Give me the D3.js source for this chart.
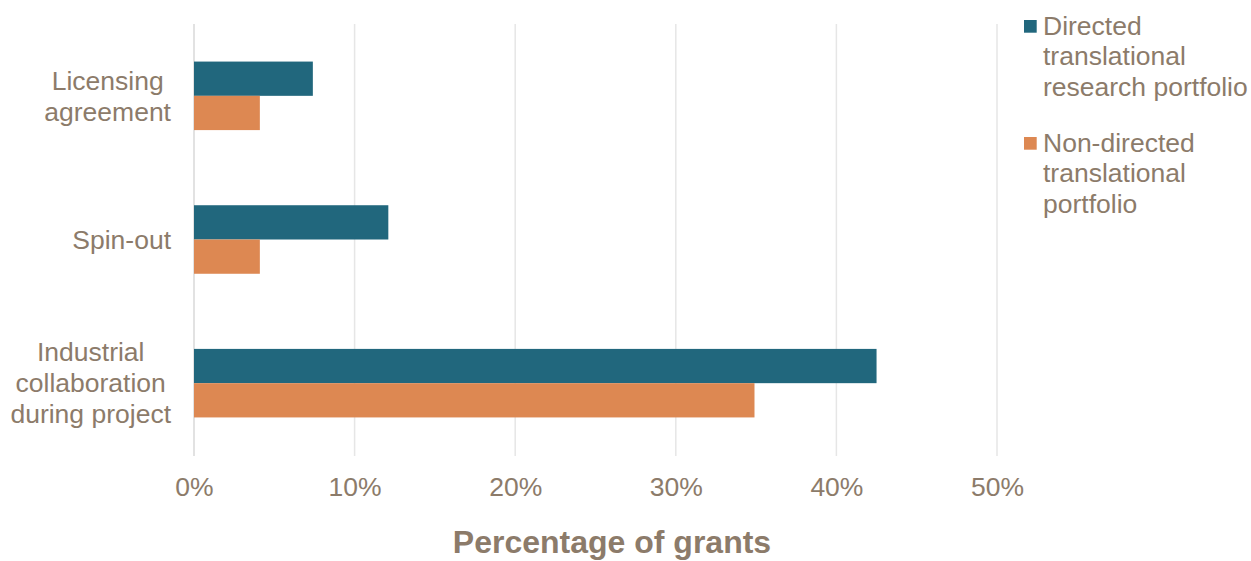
<!DOCTYPE html>
<html>
<head>
<meta charset="utf-8">
<script src="https://cdn.jsdelivr.net/npm/d3@7"></script>
<style>
  html, body { margin: 0; padding: 0; background: #ffffff; }
  svg { display: block; }
  text { font-family: "Liberation Sans", Arial, sans-serif; fill: #8C7B6A; }
</style>
</head>
<body>
<svg id="chart" width="1251" height="561"></svg>
<script>
// Outcome categories (top to bottom), each possibly wrapped over several lines
const categories = ["Licensing agreement", "Spin-out", "Industrial collaboration during project"];
const categoryLines = [["Licensing", "agreement"], ["Spin-out"], ["Industrial", "collaboration", "during project"]];

// Share of grants reporting each outcome (fraction)
const directed = [0.074, 0.121, 0.425];
const nonDirected = [0.041, 0.041, 0.349];

const seriesNames = ["Directed translational research portfolio", "Non-directed translational portfolio"];
const seriesLines = [["Directed", "translational", "research portfolio"], ["Non-directed", "translational", "portfolio"]];
const seriesColors = ["#21677D", "#DD8852"];

const tickValues = [0, 0.1, 0.2, 0.3, 0.4, 0.5];
const axisTitle = "Percentage of grants";

const svg = d3.select("#chart");

const plot = { left: 194, right: 997, top: 24, bottom: 455 };
const fontSize = 26.5;
const lineH = 31;

const x = d3.scaleLinear().domain([0, 0.5]).range([plot.left, plot.right]);
const y = d3.scaleBand().domain(categories).range([plot.top, plot.bottom])
  .paddingInner(0.523).paddingOuter(0.2615);
const ySub = d3.scaleBand().domain(seriesNames).range([0, y.bandwidth()]);

// Vertical gridlines
svg.append("g").selectAll("line").data(tickValues).join("line")
  .attr("x1", d => x(d)).attr("x2", d => x(d))
  .attr("y1", plot.top).attr("y2", plot.bottom + 1)
  .attr("stroke", d => d === 0 ? "#D9D9D9" : "#E6E6E6")
  .attr("stroke-width", 1.5);

// Bars
const rows = categories.map((c, i) => ({ cat: c, vals: [directed[i], nonDirected[i]] }));
const groups = svg.append("g").selectAll("g").data(rows).join("g")
  .attr("transform", d => `translate(0,${y(d.cat)})`);
groups.selectAll("rect").data(d => d.vals.map((v, k) => ({ v, k })))
  .join("rect")
  .attr("x", x(0))
  .attr("y", d => ySub(seriesNames[d.k]))
  .attr("width", d => x(d.v) - x(0))
  .attr("height", ySub.bandwidth())
  .attr("fill", d => seriesColors[d.k]);

// Category labels: lines centred within a block whose right edge sits left of the axis
const labelRight = 171;
const catG = svg.append("g");
categories.forEach((c, i) => {
  const lines = categoryLines[i];
  const t = catG.append("text").attr("font-size", fontSize).attr("text-anchor", "middle");
  const cy = y(c) + y.bandwidth() / 2;
  lines.forEach((ln, j) => {
    t.append("tspan").text(ln)
      .attr("y", cy + (j - (lines.length - 1) / 2) * lineH)
      .attr("dy", "0.35em");
  });
  const tspans = t.selectAll("tspan").nodes();
  const maxW = d3.max(tspans, n => n.getComputedTextLength());
  t.selectAll("tspan").attr("x", labelRight - maxW / 2);
});

// X tick labels
const xAxis = d3.axisBottom(x).tickValues(tickValues).tickFormat(d3.format(".0%")).tickSize(0).tickPadding(0);
const axG = svg.append("g").attr("transform", `translate(0,${plot.bottom})`).call(xAxis);
axG.select(".domain").remove();
axG.selectAll("text")
  .attr("font-size", fontSize)
  .attr("font-family", "Liberation Sans, Arial, sans-serif")
  .attr("fill", "#8C7B6A")
  .attr("dy", null)
  .attr("y", 41);

// Axis title
svg.append("text")
  .attr("x", 612).attr("y", 553)
  .attr("text-anchor", "middle")
  .attr("font-size", 32)
  .attr("font-weight", "bold")
  .text(axisTitle);

// Legend
const legend = svg.append("g");
const legendTop = [34.5, 151.5];
seriesNames.forEach((s, k) => {
  const base = legendTop[k];
  legend.append("rect")
    .attr("x", 1024).attr("y", base - 14.5)
    .attr("width", 12.7).attr("height", 12.7)
    .attr("fill", seriesColors[k]);
  const t = legend.append("text").attr("font-size", fontSize);
  seriesLines[k].forEach((ln, j) => {
    t.append("tspan").attr("x", 1043).attr("y", base + j * 30.5).text(ln);
  });
});
</script>
</body>
</html>
